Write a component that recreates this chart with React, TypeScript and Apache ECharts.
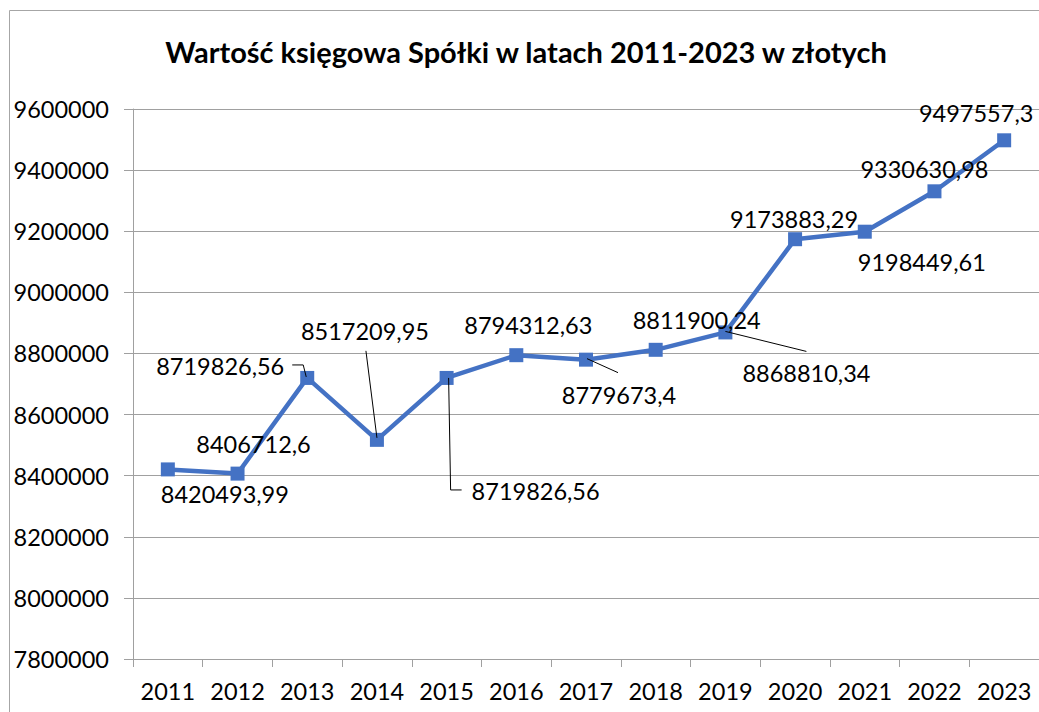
import React, { useEffect, useRef } from "react";
import * as echarts from "echarts";

const years = ["2011", "2012", "2013", "2014", "2015", "2016", "2017", "2018", "2019", "2020", "2021", "2022", "2023"];
const values = [
  8420493.99, 8406712.6, 8719826.56, 8517209.95, 8719826.56, 8794312.63, 8779673.4,
  8811900.24, 8868810.34, 9173883.29, 9198449.61, 9330630.98, 9497557.3,
];
const labelTexts = values.map((v) => String(v).replace(".", ","));
const titleText = "Wartość księgowa Spółki w latach 2011-2023 w złotych";
const yMin = 7800000;
const yMax = 9600000;
const yStep = 200000;

// label centre offsets from the marker (px)
const labelOffsets: [number, number][] = [
  [57, 25], [16, -30], [-87, -12], [-12, -109], [89, 113], [12, -30], [33, 35],
  [41, -30], [81, 41], [-1, -20], [57, 30], [-10, -22], [-28, -27],
];
// leader lines relative to marker (px)
const leaderPaths: ([number, number][] | null)[] = [
  null, null,
  [[-15, -13], [-4, -13], [-1, -1]],
  [[-11, -89], [0, -2]],
  [[15, 112], [4, 112], [2, 0]],
  null,
  [[1, -1], [32, 13]],
  null,
  [[0, -1], [81, 19]],
  null, null, null, null,
];

const FONT = "Lato";
const GRID = "#a0a0a0";

export default function App() {
  const ref = useRef<HTMLDivElement>(null);
  useEffect(() => {
    document.body.style.margin = "0";
    const chart = echarts.init(ref.current!, null, { renderer: "svg" });
    chart.setOption({
      animation: false,
      backgroundColor: "#ffffff",
      grid: { left: 133, right: -2, top: 109, bottom: 53 },
      xAxis: {
        type: "category",
        data: years,
        boundaryGap: true,
        axisLine: { lineStyle: { color: GRID, width: 1 } },
        axisTick: { show: true, length: 8, interval: 0, lineStyle: { color: GRID } },
        axisLabel: { fontFamily: FONT, fontSize: 23.5, color: "#000", margin: 20, interval: 0 },
      },
      yAxis: {
        type: "value",
        min: yMin,
        max: yMax,
        interval: yStep,
        axisLine: { show: true, lineStyle: { color: GRID, width: 1 } },
        axisTick: { show: true, length: 9, lineStyle: { color: GRID } },
        splitLine: { lineStyle: { color: GRID, width: 1 } },
        axisLabel: {
          fontFamily: FONT,
          fontSize: 23.5,
          color: "#000",
          margin: 24,
          formatter: (v: number) => String(v),
        },
      },
      series: [
        {
          type: "line",
          data: values.map((v, i) => ({ value: v, label: { offset: labelOffsets[i] } })),
          symbol: "rect",
          symbolSize: 14,
          lineStyle: { width: 4.5, color: "#4472C4" },
          itemStyle: { color: "#4472C4" },
          label: {
            show: true,
            position: "inside",
            formatter: (p: any) => labelTexts[p.dataIndex],
            fontFamily: FONT,
            fontSize: 23.5,
            color: "#000",
            align: "center",
            verticalAlign: "middle",
          },
          z: 3,
        },
      ],
    });

    const graphics: any[] = [
      {
        type: "rect",
        shape: { x: 9.5, y: 10.5, width: 1100, height: 800 },
        style: { stroke: "#a6a6a6", fill: null, lineWidth: 1 },
        silent: true,
        z: 0,
      },
      {
        type: "text",
        x: 526,
        y: 51,
        style: {
          text: titleText,
          align: "center",
          verticalAlign: "middle",
          fontFamily: FONT,
          fontWeight: "bold",
          fontSize: 29,
          fill: "#000",
        },
        z: 10,
      },
    ];
    values.forEach((v, i) => {
      const pts = leaderPaths[i];
      if (!pts) return;
      const p = chart.convertToPixel({ seriesIndex: 0 }, [i, v]) as number[];
      graphics.push({
        type: "polyline",
        shape: { points: pts.map(([dx, dy]) => [p[0] + dx, p[1] + dy]) },
        style: { stroke: "#000", lineWidth: 1, fill: null },
        silent: true,
        z: 20,
      });
    });
    chart.setOption({ graphic: graphics });

    return () => chart.dispose();
  }, []);
  return <div ref={ref} style={{ width: 1039, height: 712 }} />;
}
